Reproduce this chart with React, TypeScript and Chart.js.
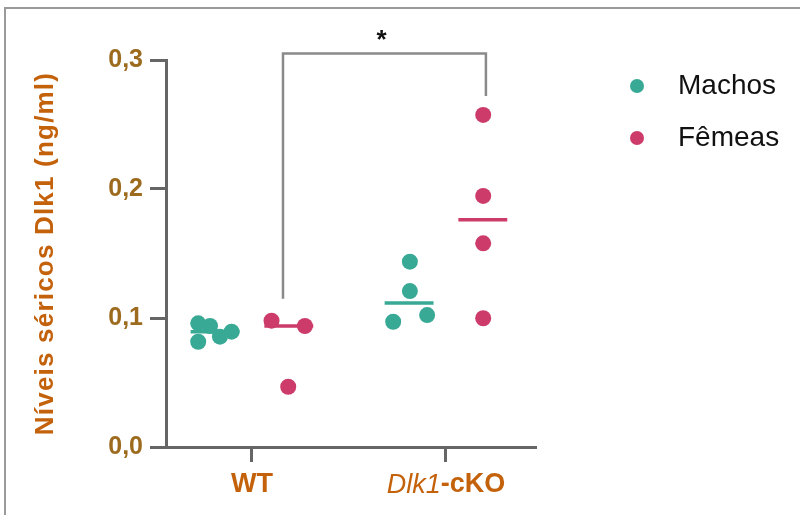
import React, { useEffect, useRef } from "react";
import { Chart, registerables } from "chart.js";

Chart.register(...registerables);

// Groups on the x axis (numeric positions used by a linear scale)
const GROUPS = ["WT", "Dlk1-cKO"];
const GROUP_POS = [1, 2];
const Y_TICKS = [0, 0.1, 0.2, 0.3];

// Serum Dlk1 (ng/ml) per animal
const MALES_WT = [0.0959, 0.0938, 0.0816, 0.0855, 0.0894];
const MALES_CKO = [0.1437, 0.1209, 0.0971, 0.1023];
const FEMALES_WT = [0.0979, 0.0938, 0.0467];
const FEMALES_CKO = [0.2574, 0.1946, 0.1579, 0.0998];

// Horizontal scatter of each dot around its group column
const JITTER_MALES_WT = [-0.277, -0.216, -0.277, -0.165, -0.105];
const JITTER_MALES_CKO = [-0.186, -0.186, -0.272, -0.097];
const JITTER_FEMALES_WT = [0.101, 0.273, 0.187];
const JITTER_FEMALES_CKO = [0.192, 0.192, 0.192, 0.192];

// Significance bracket between WT females and cKO females
const BRACKET_X = [1.16, 2.206];
const BRACKET_TOP = 0.305;
const BRACKET_FEET = [0.115, 0.272];
const BRACKET_LABEL = "*";

const SEX_LABELS = ["Machos", "Fêmeas"];

const TEAL = "#38a995";
const PINK = "#cc3b69";
const AXIS = "#666666";
const TITLE_COLOR = "#c4620c";
const TICK_COLOR = "#9c6b1e";
const FONT = "'Liberation Sans', Arial, sans-serif";

const SEX_SHIFT = 0.19;
const MEDIAN_HALF = 0.126;

function median(values: number[]): number {
  const s = [...values].sort((a, b) => a - b);
  const m = Math.floor(s.length / 2);
  return s.length % 2 ? s[m] : (s[m - 1] + s[m]) / 2;
}

function points(base: number, jitter: number[], values: number[]) {
  return values.map((v, i) => ({ x: base + jitter[i], y: v }));
}

function medianLine(center: number, values: number[], color: string) {
  const m = median(values);
  return {
    type: "line" as const,
    data: [
      { x: center - MEDIAN_HALF, y: m },
      { x: center + MEDIAN_HALF, y: m },
    ],
    borderColor: color,
    borderWidth: 3.5,
    pointRadius: 0,
    showLine: true,
    order: 2,
  };
}

const overlay = {
  id: "figureOverlay",
  afterDraw(chart: any) {
    const { ctx } = chart;
    const xs = chart.scales.x;
    const ys = chart.scales.y;
    ctx.save();

    // panel frame
    ctx.strokeStyle = "#9a9a9a";
    ctx.lineWidth = 2;
    ctx.beginPath();
    ctx.moveTo(5, 515);
    ctx.lineTo(5, 8);
    ctx.lineTo(800, 8);
    ctx.stroke();

    // significance bracket
    const xl = xs.getPixelForValue(BRACKET_X[0]);
    const xr = xs.getPixelForValue(BRACKET_X[1]);
    const yt = ys.getPixelForValue(BRACKET_TOP);
    ctx.strokeStyle = "#8a8a8a";
    ctx.lineWidth = 2.5;
    ctx.beginPath();
    ctx.moveTo(xl, ys.getPixelForValue(BRACKET_FEET[0]));
    ctx.lineTo(xl, yt);
    ctx.lineTo(xr, yt);
    ctx.lineTo(xr, ys.getPixelForValue(BRACKET_FEET[1]));
    ctx.stroke();
    ctx.fillStyle = "#111";
    ctx.font = `bold 26px ${FONT}`;
    ctx.textAlign = "center";
    ctx.textBaseline = "middle";
    ctx.fillText(BRACKET_LABEL, (xl + xr) / 2 - 3, yt - 13);

    // group labels under the x axis (gene name in italics)
    ctx.fillStyle = TITLE_COLOR;
    ctx.textBaseline = "middle";
    const labelY = 485;
    GROUPS.forEach((g, i) => {
      const cx = xs.getPixelForValue(GROUP_POS[i]);
      const dash = g.indexOf("-");
      if (dash < 0) {
        ctx.font = `bold 27px ${FONT}`;
        ctx.textAlign = "center";
        ctx.fillText(g, cx, labelY);
      } else {
        const gene = g.slice(0, dash);
        const rest = g.slice(dash);
        const fGene = `italic 27px ${FONT}`;
        const fRest = `bold 27px ${FONT}`;
        ctx.font = fGene;
        const w1 = ctx.measureText(gene).width;
        ctx.font = fRest;
        const w2 = ctx.measureText(rest).width;
        let x0 = cx - (w1 + w2) / 2;
        ctx.textAlign = "left";
        ctx.font = fGene;
        ctx.fillText(gene, x0, labelY);
        ctx.font = fRest;
        ctx.fillText(rest, x0 + w1, labelY);
      }
    });

    // y axis title
    ctx.save();
    ctx.translate(46, (chart.chartArea.top + chart.chartArea.bottom) / 2);
    ctx.rotate(-Math.PI / 2);
    ctx.font = `bold 26px ${FONT}`;
    (ctx as any).letterSpacing = "1.2px";
    ctx.textAlign = "center";
    ctx.textBaseline = "middle";
    ctx.fillStyle = TITLE_COLOR;
    ctx.fillText("Níveis séricos Dlk1 (ng/ml)", 0, 0);
    ctx.restore();

    // legend
    const colors = [TEAL, PINK];
    SEX_LABELS.forEach((label, i) => {
      const y = 86 + i * 52;
      ctx.fillStyle = colors[i];
      ctx.beginPath();
      ctx.arc(637, y, 7, 0, Math.PI * 2);
      ctx.fill();
      ctx.fillStyle = "#111";
      ctx.font = `28px ${FONT}`;
      ctx.textAlign = "left";
      ctx.textBaseline = "middle";
      ctx.fillText(label, 678, y);
    });

    ctx.restore();
  },
};

export default function App() {
  const ref = useRef<HTMLCanvasElement | null>(null);

  useEffect(() => {
    if (!ref.current) return;
    const males = [
      ...points(GROUP_POS[0] - 0, JITTER_MALES_WT, MALES_WT),
      ...points(GROUP_POS[1], JITTER_MALES_CKO, MALES_CKO),
    ];
    const females = [
      ...points(GROUP_POS[0], JITTER_FEMALES_WT, FEMALES_WT),
      ...points(GROUP_POS[1], JITTER_FEMALES_CKO, FEMALES_CKO),
    ];
    const chart = new Chart(ref.current, {
      type: "scatter",
      data: {
        datasets: [
          {
            label: SEX_LABELS[0],
            data: males,
            backgroundColor: TEAL,
            borderWidth: 0,
            pointRadius: 8,
            order: 1,
          },
          {
            label: SEX_LABELS[1],
            data: females,
            backgroundColor: PINK,
            borderWidth: 0,
            pointRadius: 8,
            order: 1,
          },
          medianLine(GROUP_POS[0] - SEX_SHIFT, MALES_WT, TEAL),
          medianLine(GROUP_POS[0] + SEX_SHIFT, FEMALES_WT, PINK),
          medianLine(GROUP_POS[1] - SEX_SHIFT, MALES_CKO, TEAL),
          medianLine(GROUP_POS[1] + SEX_SHIFT, FEMALES_CKO, PINK),
        ] as any,
      },
      options: {
        responsive: false,
        animation: false,
        layout: { padding: { left: 34, top: 60, right: 265, bottom: 18 } },
        plugins: {
          legend: { display: false },
          tooltip: { enabled: false },
        },
        scales: {
          x: {
            type: "linear",
            min: 0.557,
            max: 2.459,
            afterBuildTicks: (s: any) => {
              s.ticks = GROUP_POS.map((v) => ({ value: v }));
            },
            afterFit: (s: any) => {
              s.height = 50;
            },
            ticks: { display: false },
            grid: {
              drawOnChartArea: false,
              drawTicks: true,
              tickLength: 15,
              lineWidth: 3,
              color: AXIS,
            },
            border: { display: true, width: 3, color: AXIS },
          },
          y: {
            type: "linear",
            min: 0,
            max: 0.3,
            afterBuildTicks: (s: any) => {
              s.ticks = Y_TICKS.map((v) => ({ value: v }));
            },
            afterFit: (s: any) => {
              s.width = 132;
            },
            ticks: {
              callback: (v: any) => Number(v).toFixed(1).replace(".", ","),
              font: { family: FONT, size: 25, weight: "bold" },
              color: TICK_COLOR,
              padding: 7,
            },
            grid: {
              drawOnChartArea: false,
              drawTicks: true,
              tickLength: 16,
              lineWidth: 3,
              color: AXIS,
            },
            border: { display: true, width: 3, color: AXIS },
          },
        },
      } as any,
      plugins: [overlay],
    });
    return () => chart.destroy();
  }, []);

  return (
    <div style={{ position: "absolute", left: 0, top: 0, width: 800, height: 515, background: "#fff" }}>
      <canvas ref={ref} width={800} height={515} style={{ display: "block" }} />
    </div>
  );
}
